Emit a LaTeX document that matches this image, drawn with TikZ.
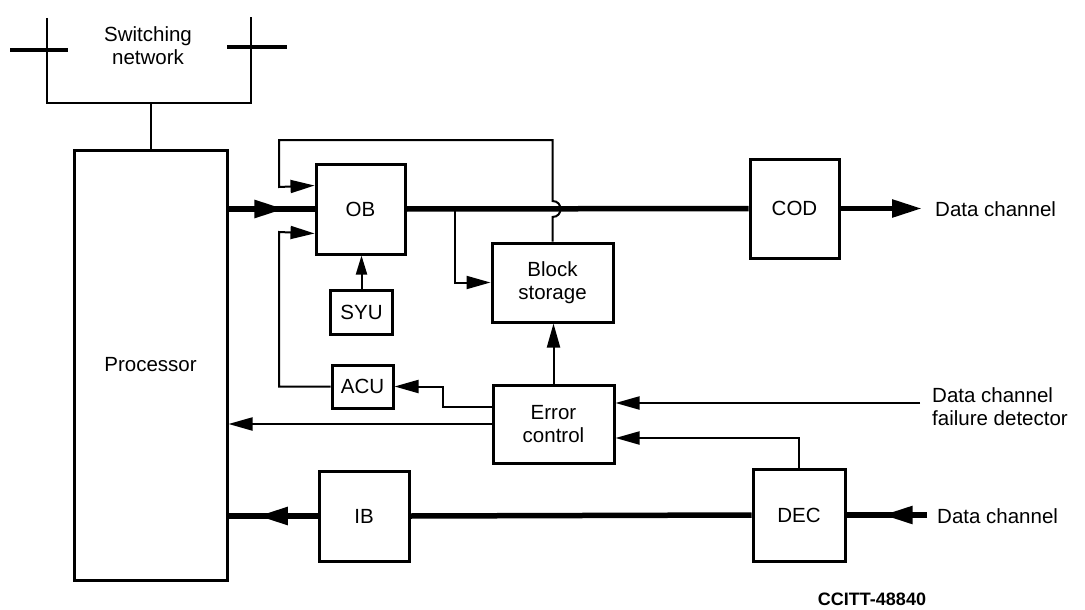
\documentclass[tikz,border=0pt]{standalone}
\usepackage{fontspec}
\setmainfont{Liberation Sans}
\usetikzlibrary{arrows.meta,decorations.markings,calc}
\begin{document}
\begin{tikzpicture}[x=1pt,y=-1pt,
  box/.style={draw, line width=3pt, inner sep=0pt, align=center, font=\fontsize{20.5}{23}\selectfont},
  thinline/.style={line width=2pt},
  thinarrow/.style={line width=2pt, -{Triangle[length=24pt,width=13pt]}},
  shortarrow/.style={line width=2pt, -{Triangle[length=19pt,width=11pt]}},
  thickline/.style={line width=5.5pt},
  thickarrow/.style={line width=5.5pt, -{Triangle[length=30pt,width=17pt]}},
  midarrow/.style={postaction={decorate}, decoration={markings, mark=at position #1 with {\arrow{Triangle[length=30pt,width=17pt]}}}},
  lbl/.style={font=\fontsize{20.5}{23}\selectfont, align=left, inner sep=0pt}
]
\useasboundingbox (0,0) rectangle (1085,610);

% boxes
\node[box, minimum width=153pt, minimum height=430pt] (P) at (150.5,365) {Processor};
\node[box, minimum width=89pt, minimum height=90pt] (OB) at (360.5,209) {OB};
\node[box, minimum width=62pt, minimum height=44pt] (SYU) at (361.5,312) {SYU};
\node[box, minimum width=121pt, minimum height=79pt] (BS) at (552.5,282.5) {Block\\storage};
\node[box, minimum width=89pt, minimum height=99pt] (COD) at (794.5,208.5) {COD};
\node[box, minimum width=61pt, minimum height=43pt] (ACU) at (362.5,386.5) {ACU};
\node[box, minimum width=121pt, minimum height=78pt] (EC) at (553.5,424) {Error\\control};
\node[box, minimum width=90pt, minimum height=90pt] (IB) at (364,516) {IB};
\node[box, minimum width=92pt, minimum height=92pt] (DEC) at (799,515) {DEC};

% switching network
\node[lbl, align=center] (SWt) at (148,46) {Switching\\network};
\coordinate (swL) at (47,103);
\coordinate (swR) at (251,103);
\draw[thinline] (47,18) -- (swL) -- (swR) -- (251,17);
\draw[line width=3.5pt] (10,50) -- (68,50);
\draw[line width=3.5pt] (227,47) -- (287,47);
\draw[thinline] (P.north |- swL) -- (P.north);

% main data path
\draw[thickline, midarrow=0.65] (P.east |- OB.west) -- (OB.west);
\draw[thickline] (OB.east) -- (COD.west);
\coordinate (dco) at (922,208.5);
\draw[thickarrow] (COD.east) -- (dco);
\node[lbl, anchor=west] (t1) at (935,209) {Data channel};

% branch to block storage
\coordinate (br) at (455,209);
\draw[thinarrow] (br) |- (BS.west);

% loop from block storage back to OB (with jump)
\draw[thinarrow] (BS.north) -- (552.5,217) .. controls (563.2,217) and (563.2,201) .. (552.5,201)
  -- (552.5,140) -- (279,140) -- (279,187) -- ($(OB.north west)+(0,23)$);

% ACU to OB
\draw[thinarrow] (ACU.west) -- (279,386.5) -- (279,232) -- ($(OB.south west)+(0,-22)$);

% SYU to OB
\draw[shortarrow] (SYU.north) -- (SYU.north |- OB.south);

% error control to block storage
\draw[thinarrow] (EC.north) -- (EC.north |- BS.south);

% error control to ACU
\coordinate (ecA) at (443,407);
\draw[thinarrow] ($(EC.west)+(0,-17)$) -- (ecA) |- (ACU.east);

% error control to processor
\draw[thinarrow] (EC.west) -- (EC.west -| P.east);

% receive path
\draw[thickline, midarrow=0.67] (IB.west) -- (IB.west -| P.east);
\draw[thickline] (DEC.west) -- (IB.east);
\coordinate (dci) at (927,515);
\draw[thickline, midarrow=0.55] (dci) -- (DEC.east);
\node[lbl, anchor=west] (t2) at (937,516) {Data channel};

% DEC to error control
\draw[thinarrow] (DEC.north) |- ($(EC.east)+(0,14)$);

% failure detector
\coordinate (fd) at (920,403);
\draw[thinarrow] (fd) -- (fd -| EC.east);
\node[lbl, anchor=west] (t3) at (932,407) {Data channel\\failure detector};

% figure number
\node[font=\bfseries\fontsize{18}{21}\selectfont, inner sep=0pt] (cc) at (872,599) {CCITT-48840};
\end{tikzpicture}
\end{document}
